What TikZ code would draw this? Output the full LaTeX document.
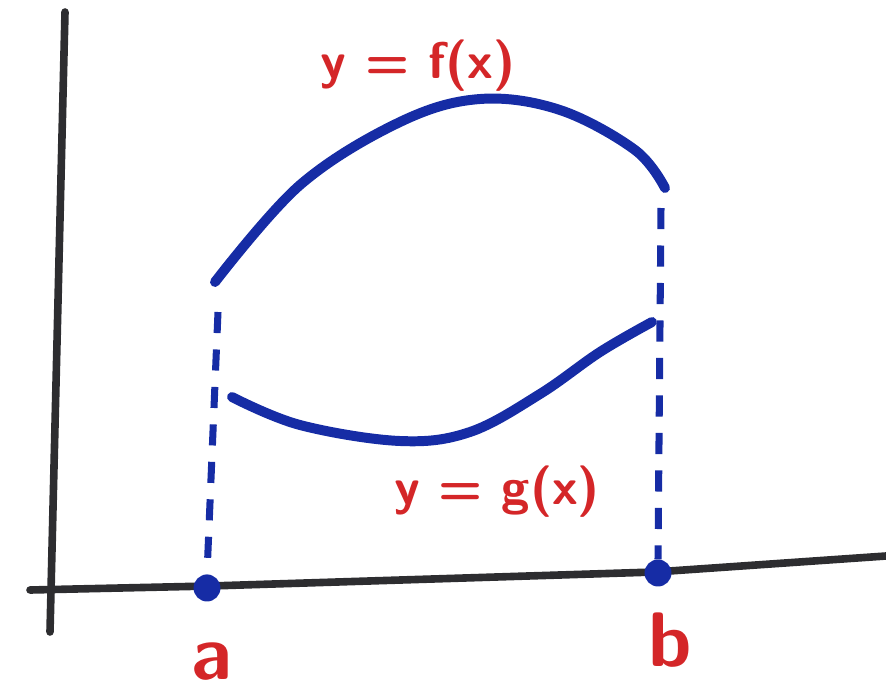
\documentclass[tikz,border=0pt]{standalone}
\usetikzlibrary{positioning}
\definecolor{penblue}{RGB}{22,44,165}
\definecolor{penred}{RGB}{212,38,40}
\definecolor{penblack}{RGB}{45,45,48}
\tikzset{
  axisline/.style={penblack, line width=6.5pt, line cap=round},
  curveline/.style={penblue, line width=8.5pt, line cap=round},
  dashline/.style={penblue, line width=6pt, dash pattern=on 18pt off 14pt},
  enddot/.style={circle, fill=penblue, inner sep=0pt, minimum size=23pt},
  redlabel/.style={penred, font=\sffamily\bfseries\fontsize{44}{48}\selectfont},
  endlabel/.style={penred, font=\sffamily\bfseries\fontsize{66}{70}\selectfont}
}
\begin{document}
\begin{tikzpicture}[x=0.03cm, y=-0.03cm]
  \useasboundingbox (0,0) rectangle (886,694);
  % axes
  \draw[axisline] (65,12) -- (50,632);
  \draw[axisline] (30,590) -- (210,586) -- (655,572) -- (886,556);
  % the two curves
  \draw[curveline] plot[smooth, tension=0.6] coordinates
    {(215,282) (300,185) (400,122) (480,99) (560,110) (635,150) (665,188)};
  \draw[curveline] plot[smooth, tension=0.6] coordinates
    {(232,397) (300,425) (400,441) (470,432) (540,394) (600,352) (652,322)};
  \coordinate (fa) at (218,312);
  \coordinate (fb) at (661,208);
  % points on the x-axis
  \node[enddot] (dota) at (207,588) {};
  \node[enddot] (dotb) at (658,573) {};
  \draw[dashline] (fa) -- (dota.north);
  \draw[dashline] (fb) -- (dotb.north);
  % labels
  \node[redlabel] (lblf) at (418,66) {y = f(x)};
  \node[redlabel] (lblg) at (497,492) {y = g(x)};
  \node[endlabel] (lbla) at (212,662) {a};
  \node[endlabel] (lblb) at (670,640) {b};
\end{tikzpicture}
\end{document}
